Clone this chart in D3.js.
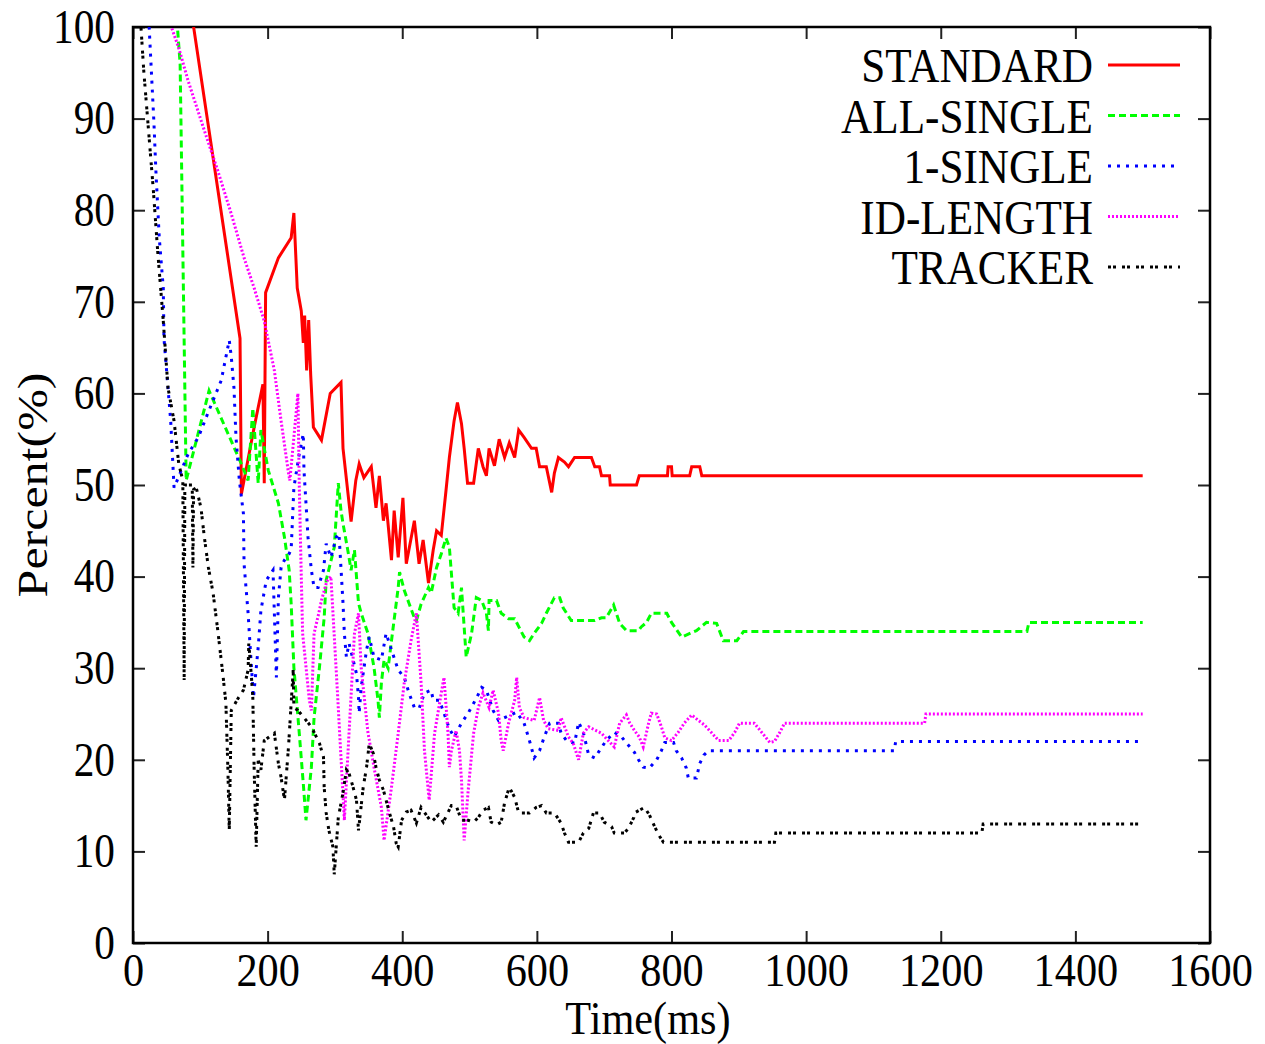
<!DOCTYPE html>
<html>
<head>
<meta charset="utf-8">
<script src="https://cdn.jsdelivr.net/npm/d3@7"></script>
<style>
  body { margin: 0; background: #fff; }
  text { font-family: "Liberation Serif", "Times New Roman", serif; fill: #000; }
</style>
</head>
<body>
<div id="app"></div>
<script>
(function (d3) {

  'use strict'

  const xTicks = [0, 200, 400, 600, 800, 1000, 1200, 1400, 1600]
  const yTicks = [0, 10, 20, 30, 40, 50, 60, 70, 80, 90, 100]
  const seriesNames = ['STANDARD', 'ALL-SINGLE', '1-SINGLE', 'ID-LENGTH', 'TRACKER']

  // [time ms, percent]
  const standard = [[86,102],[159,66],[161,49],[180,56.3],[193,61],[195,50.2],[197,71],[216,74.8],[235,77],[239,79.7],[244,71.5],[250,69],[253,65.5],[255,68.5],[258,62.5],[261,68],[264,62],[268,56.3],[280,54.9],[293,60],[309,61.2],[312,54],[324,46],[331,50.5],[336,52.3],[343,50.8],[354,52],[361,47.5],[366,51],[372,46.1],[376,48],[384,41.8],[388,47.2],[394,42.1],[401,48.6],[406,41.4],[418,46.1],[425,41.4],[431,44],[439,39.3],[446,42.9],[451,45],[458,44.5],[465,49.4],[470,53],[477,57],[482,59],[488,56.7],[492,54],[497,50.2],[506,50.2],[513,54],[520,52],[525,51],[529,54],[537,52.1],[544,55],[552,53],[559,54.6],[567,53],[573,56],[581,55.2],[592,54],[599,54],[604,52],[614,52],[622,49.2],[626,51.3],[632,53],[641,52.5],[647,52],[656,53],[681,53],[686,52],[693,52],[696,51],[708,51],[709,50],[748,50],[752,51],[794,51],[795,52],[800,52],[801,51],[827,51],[830,52],[842,52],[845,51],[1500,51]]

  const allSingle = [[64,102],[66,100],[70,96],[79,50.5],[113,60.3],[161,52.3],[171,50.5],[178,58.4],[186,50.2],[190,56],[201,51.6],[216,48],[225,44.3],[232,40.7],[235,37],[239,30.1],[247,22.9],[253,17.4],[257,13.4],[265,19.2],[269,24.6],[277,30.1],[284,35.5],[287,39.6],[299,43.2],[305,50.2],[309,47.2],[312,45.8],[320,42.5],[324,40.7],[329,42.9],[335,37.1],[339,36],[349,33.8],[358,30.1],[364,26.5],[366,24.6],[369,28.4],[373,30.9],[379,30],[384,33],[394,38.8],[396,40.5],[403,38.5],[410,37.1],[418,35.5],[421,35.2],[428,37],[439,38.8],[443,38.2],[451,41],[458,42.5],[465,44.2],[470,43.2],[477,36.6],[483,36],[488,38.8],[495,31.2],[503,33.8],[510,37.7],[518,37.4],[525,36],[528,34.1],[529,37.4],[540,37.4],[547,36],[558,35.4],[567,35.4],[574,34.4],[581,33.4],[589,33],[596,33.8],[607,34.9],[614,36],[626,37.7],[634,37.7],[639,36.6],[651,35.2],[686,35.2],[696,35.5],[703,35.5],[714,36.9],[723,34.9],[733,34.1],[751,34.1],[755,34.5],[763,35],[770,36],[793,36],[800,35],[815,33.4],[837,34.1],[852,35],[867,34.9],[877,33],[897,33],[907,34],[1328,34],[1331,35],[1500,35]]

  const oneSingle = [[22,102],[24,100],[31,89.7],[34,84.3],[39,77],[45,71.5],[46,66],[52,60.6],[56,57],[61,49.7],[82,53.4],[97,55.2],[111,57.8],[131,61.4],[143,65.8],[146,64],[150,60.6],[153,55.2],[158,50.5],[164,46.9],[165,41.4],[171,36],[175,31.2],[179,26.8],[186,32.3],[190,36.3],[198,39.6],[208,40.7],[213,29],[216,37.7],[220,41],[225,41.8],[232,42.5],[235,43],[239,49.7],[247,53.4],[253,55.6],[254,51.6],[257,48],[260,44.3],[265,40.7],[269,38.8],[275,38.8],[283,40.7],[287,43.6],[294,42.1],[302,44.3],[306,44.7],[312,37.1],[314,33.8],[317,31.2],[321,32.7],[332,29.4],[335,26.8],[336,25.1],[339,27.9],[347,32],[351,33.4],[358,31.2],[369,30.9],[376,33.8],[384,32],[394,29.8],[403,29],[410,27.3],[418,25.7],[425,25.6],[433,27.3],[443,27.6],[446,26.5],[455,26.5],[462,25.1],[470,23.4],[477,22.5],[488,24],[498,25.1],[510,26.7],[518,27.9],[525,27.6],[535,25.4],[543,24.3],[552,24.6],[570,25.2],[581,24],[589,22.1],[596,20.2],[604,21],[611,22.5],[619,24],[632,24],[636,22.9],[644,22.1],[656,21.8],[662,24.1],[669,23],[677,20.5],[686,20.2],[693,21],[703,22.1],[715,23],[726,22.5],[730,22.1],[745,20.8],[751,20],[758,19.2],[767,19.1],[778,20],[785,21],[790,21.9],[803,21.9],[807,21],[815,20.2],[822,19.1],[825,18],[837,18],[842,19.6],[848,20.5],[855,21],[1131,21],[1133,22],[1500,22]]

  const idLength = [[54,102],[57,100],[68,97.7],[82,94.1],[106,88.7],[126,84.3],[146,79.6],[165,74.8],[180,71.5],[195,67.9],[210,62.5],[220,57],[231,51.3],[233,50.5],[239,55.2],[245,60],[247,50],[250,40],[252,33.8],[262,26.5],[265,25.4],[269,33.8],[276,36],[280,37.4],[288,39.5],[294,40],[304,27],[314,13.4],[321,23],[329,33.8],[335,36],[339,30],[349,23],[358,19.2],[369,14.8],[373,11.2],[384,17],[394,22.9],[403,28.4],[413,33],[421,36],[428,28.4],[433,21],[440,15.6],[448,22.9],[458,27.3],[462,29],[468,22.9],[470,19.2],[473,21],[480,23.2],[485,21],[488,17.8],[492,11.2],[498,16.7],[506,22.9],[513,25.7],[520,27.3],[529,25.7],[535,27.6],[543,25.1],[547,22.1],[550,21],[558,24],[567,26.5],[570,29],[574,25.7],[581,24.6],[596,24.3],[604,26.8],[610,24.3],[617,23.4],[632,23.2],[636,24.6],[647,22.5],[654,21.8],[662,20],[669,22.9],[677,23.6],[685,23.3],[696,22.9],[706,22.1],[715,21.4],[723,24],[733,24.9],[738,24],[745,23.2],[752,22.5],[758,21.4],[766,24],[770,25.1],[778,25],[785,23.6],[790,22.4],[800,22.1],[810,23],[819,24],[830,24.9],[840,24.3],[849,23.8],[859,23],[870,22.1],[885,22.1],[894,23],[901,24],[923,24],[934,23],[946,21.9],[953,22],[961,23],[968,24],[1176,24],[1178,25],[1500,25]]

  const tracker = [[10,102],[12,99.8],[16,95.2],[22,89.7],[30,82.4],[37,75.2],[45,67.9],[52,60.6],[61,57],[68,52.3],[74,50.5],[76,28.7],[77,50],[88,50],[89,41],[90,49.5],[94,49.7],[101,47.5],[106,44.3],[112,41],[119,38.2],[126,34.1],[134,29],[138,26.2],[141,18.9],[143,12.3],[146,25.4],[156,26.7],[164,27.6],[171,29.8],[172,32.7],[176,29],[178,26.8],[180,18.9],[183,10.5],[186,20],[190,18.9],[195,22.1],[210,22.9],[216,19.6],[220,18.1],[225,15.6],[231,21.4],[238,29.8],[239,25.7],[245,25.4],[254,24.6],[265,23.6],[277,21.8],[283,20.3],[284,17],[287,14.2],[291,12.3],[297,10.5],[299,7.5],[305,13.7],[312,16.4],[317,18.9],[321,18.5],[327,17],[332,15.6],[335,12.3],[342,17],[347,19.2],[351,21.8],[357,20.7],[361,19.2],[366,17.8],[372,16.7],[381,14.2],[387,12.7],[391,10.9],[394,10.5],[399,13.4],[406,14.3],[413,14.5],[421,13.1],[428,14.8],[443,13.2],[454,14],[461,13.2],[473,15],[480,15],[488,13.4],[498,13.4],[506,13.2],[513,13.7],[520,14.5],[528,14.8],[532,13.2],[540,12.9],[547,13.2],[552,15.3],[559,17],[567,15.9],[573,14.2],[589,14.2],[599,14.8],[607,15],[614,14.2],[626,14.2],[636,13.1],[641,12],[647,11],[662,11],[669,12],[677,12.5],[684,14.2],[693,14.2],[700,13.2],[711,12.7],[715,12],[730,12],[736,12.5],[744,13.7],[745,14.2],[760,14.8],[767,14],[775,12.7],[781,11.8],[788,11],[953,11],[955,12],[1261,12],[1263,13],[1500,13]]

  const seriesData = [standard, allSingle, oneSingle, idLength, tracker]
  const colors = ['#ff0000', '#00ff00', '#0000ff', '#ff00ff', '#000000']
  const dashes = [null, '7,4', '3,6', '2,2', '3,2,3,6']

  const w = 1265
  const h = 1044
  const m = {top: 27, right: 55, bottom: 101, left: 133}
  const pw = w - m.left - m.right
  const ph = h - m.top - m.bottom
  const squeeze = 0.86

  const svg = d3.select('#app')
  .append('svg')
  .attr('width', w)
  .attr('height', h)
  .style('background', '#fff')

  const g = svg.append('g')
  .attr('transform', `translate(${m.left},${m.top})`)

  const x = d3.scaleLinear().domain([0, 1600]).range([0, pw])
  const y = d3.scaleLinear().domain([0, 100]).range([ph, 0])

  svg.append('defs').append('clipPath')
  .attr('id', 'plot')
  .append('rect')
  .attr('width', pw)
  .attr('height', ph)

  // axes, ticks pointing inward on all four sides
  const xAxis = g.append('g')
  .attr('transform', `translate(0,${ph})`)
  .call(d3.axisBottom(x).tickValues(xTicks).tickFormat(d3.format('d')).tickSize(-12).tickSizeOuter(0).tickPadding(10))
  xAxis.selectAll('text')
  .attr('font-size', 47)
  .attr('transform', 'scale(0.9,1)')

  const yAxis = g.append('g')
  .call(d3.axisLeft(y).tickValues(yTicks).tickFormat(d3.format('d')).tickSize(-12).tickSizeOuter(0).tickPadding(18))
  yAxis.selectAll('text')
  .attr('font-size', 48)
  .attr('x', -18 / squeeze)
  .attr('transform', `scale(${squeeze},1)`)

  g.append('g')
  .call(d3.axisTop(x).tickValues(xTicks).tickSize(-12).tickSizeOuter(0).tickFormat(''))
  g.append('g')
  .attr('transform', `translate(${pw},0)`)
  .call(d3.axisRight(y).tickValues(yTicks).tickSize(-12).tickSizeOuter(0).tickFormat(''))

  g.selectAll('.domain').remove()
  g.selectAll('.tick line')
  .attr('stroke', '#222')
  .attr('stroke-width', 2)

  g.append('rect')
  .attr('width', pw)
  .attr('height', ph)
  .attr('fill', 'none')
  .attr('stroke', '#000')
  .attr('stroke-width', 2.5)

  const line = d3.line()
  .x(d => x(d[0]))
  .y(d => y(d[1]))

  g.append('g')
  .attr('clip-path', 'url(#plot)')
  .selectAll('path')
  .data(seriesData)
  .enter()
  .append('path')
  .attr('d', line)
  .attr('fill', 'none')
  .attr('stroke', (d, i) => colors[i])
  .attr('stroke-width', 3)
  .attr('stroke-dasharray', (d, i) => dashes[i])
  .attr('stroke-linejoin', 'miter')

  // axis titles
  svg.append('g')
  .attr('transform', 'translate(648,1034) scale(0.9,1)')
  .append('text')
  .attr('text-anchor', 'middle')
  .attr('font-size', 47)
  .text('Time(ms)')

  svg.append('g')
  .attr('transform', `translate(47,${m.top + ph / 2}) scale(${squeeze},1) rotate(-90)`)
  .append('text')
  .attr('text-anchor', 'middle')
  .attr('font-size', 50)
  .text('Percent(%)')

  // legend
  const legend = svg.append('g')
  .selectAll('g')
  .data(seriesNames)
  .enter()
  .append('g')
  .attr('transform', (d, i) => `translate(0,${82 + i * 50.5})`)

  legend.append('g')
  .attr('transform', `translate(1093,0) scale(0.9,1)`)
  .append('text')
  .attr('text-anchor', 'end')
  .attr('font-size', 48)
  .text(d => d)

  legend.append('line')
  .attr('x1', 1108)
  .attr('x2', 1180)
  .attr('y1', -17)
  .attr('y2', -17)
  .attr('stroke', (d, i) => colors[i])
  .attr('stroke-width', 3)
  .attr('stroke-dasharray', (d, i) => dashes[i])

}(d3))
</script>
</body>
</html>
